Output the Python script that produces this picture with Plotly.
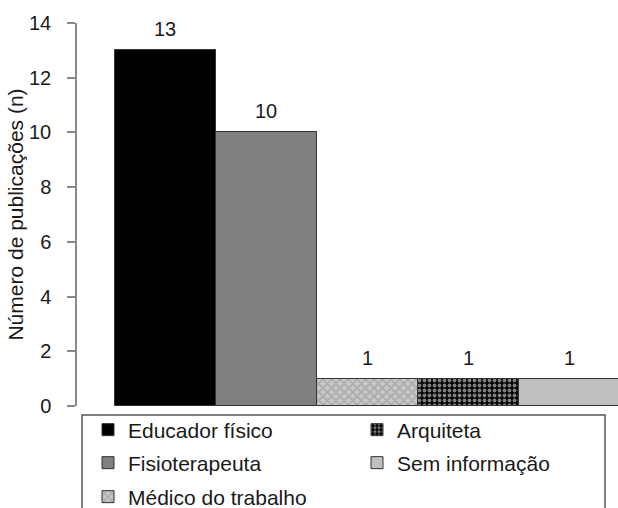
import plotly.graph_objects as go

# Publications by author profession
categories = ["Educador físico", "Fisioterapeuta", "Médico do trabalho", "Arquiteta", "Sem informação"]
counts = [13, 10, 1, 1, 1]
y_ticks = [0, 2, 4, 6, 8, 10, 12, 14]

FONT = "Arial, Liberation Sans, sans-serif"
W, H = 618, 508
ML, MR, MT, MB = 77, 0, 23, 102
PW, PH = W - ML - MR, H - MT - MB


def px_x(x):
    return (x - ML) / PW


def px_y(y):
    return (H - MB - y) / PH


styles = [
    dict(color="#000000", pattern=dict(shape="")),
    dict(color="#808080", pattern=dict(shape="")),
    dict(color="#b0b0b0", pattern=dict(shape="x", fgcolor="#8c8c8c", bgcolor="#c8c8c8",
                                        size=6, solidity=0.45)),
    dict(color="#000000", pattern=dict(shape=".", fgcolor="#ffffff", bgcolor="#000000",
                                        size=5, solidity=0.45)),
    dict(color="#c0c0c0", pattern=dict(shape="")),
]

# legend placement: (legend id, left px, row centre px)
legend_slots = [
    ("legend", 88, 430),
    ("legend2", 88, 463),
    ("legend3", 88, 497),
    ("legend4", 357, 430),
    ("legend5", 357, 463),
]

fig = go.Figure()
for i, (cat, val) in enumerate(zip(categories, counts)):
    fig.add_trace(go.Bar(
        x=[i], y=[val], name=cat, width=1,
        marker=dict(color=styles[i]["color"], pattern=styles[i]["pattern"],
                    line=dict(color="#333333", width=1)),
        legend=legend_slots[i][0], showlegend=True,
    ))

# value labels above bars
for i, val in enumerate(counts):
    fig.add_annotation(x=i, y=val, text=str(val), showarrow=False, yanchor="bottom",
                       yshift=8, font=dict(family=FONT, size=20, color="#1a1a1a"))

legend_layouts = {}
for lid, lx, ly in legend_slots:
    legend_layouts[lid] = dict(
        x=px_x(lx), y=px_y(ly), xanchor="left", yanchor="middle",
        bgcolor="rgba(0,0,0,0)", borderwidth=0,
        font=dict(family=FONT, size=21, color="#1a1a1a"),
    )

# legend frame
fig.add_shape(type="rect", xref="paper", yref="paper",
              x0=px_x(82), x1=px_x(605), y0=px_y(415), y1=px_y(540),
              line=dict(color="#555555", width=1.5), fillcolor="rgba(0,0,0,0)")

fig.update_layout(
    width=W, height=H,
    margin=dict(l=ML, r=MR, t=MT, b=MB, pad=0, autoexpand=False),
    plot_bgcolor="white", paper_bgcolor="white",
    bargap=0, barmode="overlay",
    font=dict(family=FONT, size=20, color="#1a1a1a"),
    xaxis=dict(range=[-0.876, 4.48], showticklabels=False, ticks="", showgrid=False,
               zeroline=False, showline=False, fixedrange=True),
    yaxis=dict(range=[0, 14], tickvals=y_ticks, ticks="outside", ticklen=8,
               tickcolor="#888888", tickwidth=1.5, showline=True, linecolor="#888888",
               linewidth=1.5, showgrid=False, zeroline=False, ticklabelstandoff=12,
               tickfont=dict(family=FONT, size=20, color="#1a1a1a"),
               title=dict(text="Número de publicações (n)", standoff=0,
                          font=dict(family=FONT, size=21, color="#1a1a1a"))),
    **legend_layouts,
)

fig.write_html("out.html")
